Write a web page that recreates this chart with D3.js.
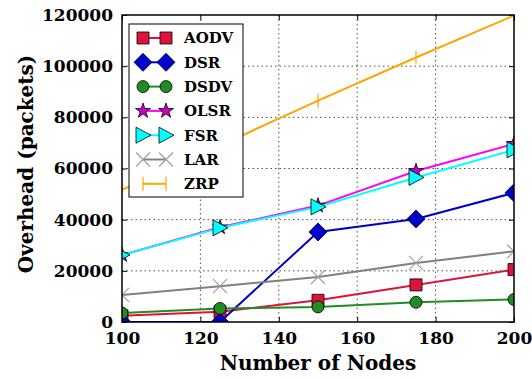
<!DOCTYPE html>
<html>
<head>
<meta charset="utf-8">
<script src="https://cdn.jsdelivr.net/npm/d3@7"></script>
<style>
  body { margin: 0; background: #fff; }
  text { font-family: "DejaVu Serif", serif; font-weight: bold; fill: #000; }
</style>
</head>
<body>
<div id="chart"></div>
<script>
// datos
const nodes = [100, 125, 150, 175, 200]
const aodv = [2400, 4000, 8500, 14500, 20500]
const dsr  = [0, 0, 35200, 40300, 50500]
const dsdv = [3500, 5300, 5900, 7700, 8800]
const olsr = [26200, 37000, 45500, 59000, 69600]
const fsr  = [26200, 36800, 45000, 56500, 67300]
const lar  = [10600, 14000, 17600, 23100, 27600]
const zrp  = [51700, 69000, 86500, 103400, 119800]
const yTicks = [0, 20000, 40000, 60000, 80000, 100000, 120000]
const xTicks = [100, 120, 140, 160, 180, 200]

const series = [
    {name: "AODV", values: aodv, color: "#dc143c", fill: "#dc143c", marker: "square"},
    {name: "DSR",  values: dsr,  color: "#0000cd", fill: "#0000cd", marker: "diamond"},
    {name: "DSDV", values: dsdv, color: "#228b22", fill: "#228b22", marker: "circle"},
    {name: "OLSR", values: olsr, color: "#ff00ff", fill: "#cc00cc", marker: "star"},
    {name: "FSR",  values: fsr,  color: "#00ffff", fill: "#00ffff", marker: "triangle"},
    {name: "LAR",  values: lar,  color: "#808080", fill: "none", marker: "x"},
    {name: "ZRP",  values: zrp,  color: "#ffa500", fill: "none", marker: "vline"}
]

// constantes
const width = 532
const height = 379
const margin = {top: 15, bottom: 57, left: 122, right: 18}
const w = width - margin.left - margin.right
const h = height - margin.top - margin.bottom

const svg = d3.select("#chart").append("svg").attr("width", width).attr("height", height)
svg.append("defs").append("clipPath").attr("id", "clip")
    .append("rect").attr("width", w).attr("height", h)

const g = svg.append("g").attr("transform", `translate(${margin.left}, ${margin.top})`)

const x = d3.scaleLinear().domain([100, 200]).range([0, w])
const y = d3.scaleLinear().domain([0, 120000]).range([h, 0])

// rejilla
g.append("g").selectAll("line").data(xTicks.slice(1, -1)).join("line")
    .attr("x1", d => x(d)).attr("x2", d => x(d)).attr("y1", 0).attr("y2", h)
    .attr("stroke", "#000").attr("stroke-width", 0.7).attr("stroke-dasharray", "1.5,3")
g.append("g").selectAll("line").data(yTicks.slice(1, -1)).join("line")
    .attr("y1", d => y(d)).attr("y2", d => y(d)).attr("x1", 0).attr("x2", w)
    .attr("stroke", "#000").attr("stroke-width", 0.7).attr("stroke-dasharray", "1.5,3")

// ejes (ticks hacia dentro)
const fmt = d3.format("d")
const xAxisB = d3.axisBottom(x).tickValues(xTicks).tickSize(-5).tickPadding(8).tickFormat(fmt)
const xAxisT = d3.axisTop(x).tickValues(xTicks).tickSize(-5).tickFormat("")
const yAxisL = d3.axisLeft(y).tickValues(yTicks).tickSize(-5).tickPadding(9).tickFormat(fmt)
const yAxisR = d3.axisRight(y).tickValues(yTicks).tickSize(-5).tickFormat("")

const gx = g.append("g").attr("transform", `translate(0, ${h})`).call(xAxisB)
g.append("g").call(xAxisT)
const gy = g.append("g").call(yAxisL)
g.append("g").attr("transform", `translate(${w}, 0)`).call(yAxisR)
g.selectAll(".domain").remove()
g.selectAll(".tick line").attr("stroke", "#000").attr("stroke-width", 1)
gx.selectAll("text").attr("font-size", 17).attr("font-family", "DejaVu Serif").attr("font-weight", "bold").attr("dy", "0.8em")
gy.selectAll("text").attr("font-size", 17).attr("font-family", "DejaVu Serif").attr("font-weight", "bold")

// marcadores
function markerPath(type) {
    switch (type) {
        case "square": return "M-6,-6H6V6H-6Z"
        case "diamond": return "M0,-9L9,0L0,9L-9,0Z"
        case "circle": return d3.symbol(d3.symbolCircle, 113)()
        case "star": return d3.symbol(d3.symbolStar, 70)()
        case "triangle": return "M-7,-8L8,0L-7,8Z"
        case "x": return "M-7,-7L7,7M-7,7L7,-7"
        case "vline": return "M0,-7V7"
    }
}
function drawMarker(sel, s) {
    const p = sel.append("path").attr("d", markerPath(s.marker))
    if (s.marker === "x" || s.marker === "vline") {
        p.attr("fill", "none").attr("stroke", s.marker === "x" ? "#a0a0a0" : s.color).attr("stroke-width", 1.2)
    } else {
        p.attr("fill", s.fill).attr("stroke", "#000").attr("stroke-width", 0.8)
    }
}

const line = d3.line().x((d, i) => x(nodes[i])).y(d => y(d))
const plot = g.append("g").attr("clip-path", "url(#clip)")
series.forEach(s => {
    const sg = plot.append("g")
    sg.append("path").datum(s.values).attr("d", line)
        .attr("fill", "none").attr("stroke", s.color).attr("stroke-width", 2)
    sg.selectAll("g").data(s.values).join("g")
        .attr("transform", (d, i) => `translate(${x(nodes[i])}, ${y(d)})`)
        .each(function() { drawMarker(d3.select(this), s) })
})

// marco
g.append("rect").attr("width", w).attr("height", h)
    .attr("fill", "none").attr("stroke", "#000").attr("stroke-width", 1.5)

// leyenda
const legend = g.append("g").attr("transform", "translate(7, 9)")
legend.append("rect").attr("width", 114).attr("height", 173)
    .attr("fill", "#fff").attr("stroke", "#000").attr("stroke-width", 1)
series.forEach((s, i) => {
    const row = legend.append("g").attr("transform", `translate(0, ${14 + i * 24.3})`)
    row.append("line").attr("x1", 14).attr("x2", 37)
        .attr("stroke", s.color).attr("stroke-width", 2)
    ;[14, 37].forEach(px => drawMarker(row.append("g").attr("transform", `translate(${px}, 0)`), s))
    row.append("text").attr("x", 55).attr("dy", "0.36em").attr("font-size", 15).text(s.name)
})

// titulos de ejes
svg.append("text").attr("x", margin.left + w / 2).attr("y", 370)
    .attr("text-anchor", "middle").attr("font-size", 20).text("Number of Nodes")
svg.append("text").attr("transform", `translate(33, 164) rotate(-90)`)
    .attr("text-anchor", "middle").attr("font-size", 20).text("Overhead (packets)")
</script>
</body>
</html>
